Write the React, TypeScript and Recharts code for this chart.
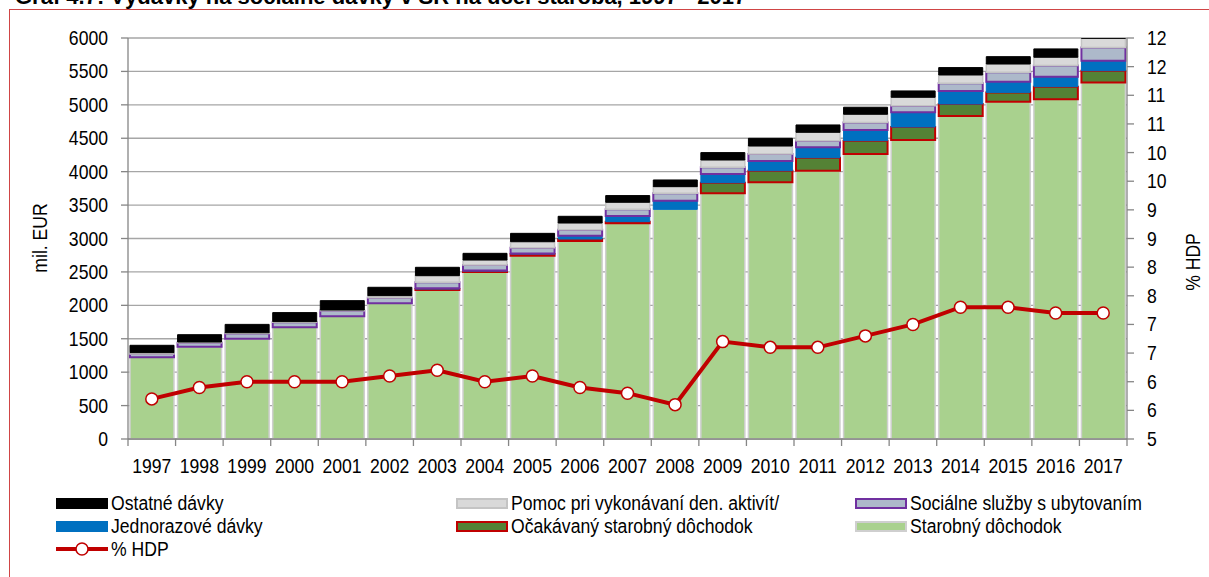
import React from "react";
import { ComposedChart, Bar, Line, XAxis, YAxis, CartesianGrid } from "recharts";

const years = [
  "1997", "1998", "1999", "2000", "2001", "2002", "2003", "2004", "2005", "2006", "2007",
  "2008", "2009", "2010", "2011", "2012", "2013", "2014", "2015", "2016", "2017",
];

// mil. EUR, stacked bottom to top
const starobny = [1222, 1381, 1500, 1671, 1835, 2030, 2229, 2498, 2742, 2962, 3227, 3436, 3676, 3840, 4014, 4264, 4473, 4832, 5046, 5082, 5336];
const ocakavany = [0, 0, 0, 0, 0, 0, 15, 15, 25, 30, 25, 0, 159, 174, 195, 200, 195, 180, 140, 190, 175];
const jednorazove = [0, 0, 0, 0, 0, 0, 10, 10, 10, 50, 85, 130, 130, 145, 155, 160, 220, 195, 160, 150, 150];
const socialne = [50, 60, 80, 75, 85, 85, 90, 80, 85, 90, 100, 110, 100, 105, 100, 110, 100, 115, 140, 165, 195];
const pomoc = [20, 10, 10, 10, 10, 30, 100, 75, 90, 100, 105, 100, 110, 120, 125, 125, 125, 125, 125, 125, 140];
const ostatne = [110, 110, 125, 135, 140, 125, 125, 100, 125, 100, 100, 100, 110, 115, 110, 105, 95, 110, 110, 125, 120];

// % HDP (right axis)
const hdp = [5.7, 5.9, 6.0, 6.0, 6.0, 6.1, 6.2, 6.0, 6.1, 5.9, 5.8, 5.6, 6.7, 6.6, 6.6, 6.8, 7.0, 7.3, 7.3, 7.2, 7.2];

const leftTicks = [0, 500, 1000, 1500, 2000, 2500, 3000, 3500, 4000, 4500, 5000, 5500, 6000];
const rightTicks = [5, 5.5, 6, 6.5, 7, 7.5, 8, 8.5, 9, 9.5, 10, 10.5, 11, 11.5, 12];

const rows = years.map((year, i) => ({
  year,
  starobny: starobny[i],
  ocakavany: ocakavany[i],
  jednorazove: jednorazove[i],
  socialne: socialne[i],
  pomoc: pomoc[i],
  ostatne: ostatne[i],
  hdp: hdp[i],
}));

const FONT = "'Liberation Sans', Arial, sans-serif";
const AXIS = "#868686";
const SQUEEZE = 0.88; // reference text is a bit condensed

// text squeezed horizontally around its anchor point
function NarrowText({ x, y, anchor, children, dy = "0.35em", rotate = 0 }: any) {
  return (
    <g transform={`translate(${x},${y}) rotate(${rotate}) scale(${SQUEEZE},1)`}>
      <text x={0} y={0} dy={dy} textAnchor={anchor} fontSize={20} fontFamily={FONT} fill="#000">
        {children}
      </text>
    </g>
  );
}

function YearTick(props: any) {
  const { x, y, payload, index, visibleTicksCount } = props;
  const half = payload.offset ?? 0;
  return (
    <g>
      <line x1={x - half} x2={x - half} y1={y} y2={y + 7} stroke={AXIS} strokeWidth={1.3} />
      {index === visibleTicksCount - 1 && (
        <line x1={x + half} x2={x + half} y1={y} y2={y + 7} stroke={AXIS} strokeWidth={1.3} />
      )}
      <NarrowText x={x} y={y + 27} anchor="middle">
        {payload.value}
      </NarrowText>
    </g>
  );
}

function LeftTick(props: any) {
  const { x, y, payload } = props;
  return (
    <NarrowText x={x} y={y} anchor="end">
      {payload.value}
    </NarrowText>
  );
}

function RightTick(props: any) {
  const { x, y, payload } = props;
  return (
    <NarrowText x={x} y={y} anchor="start">
      {Math.round(payload.value)}
    </NarrowText>
  );
}

type LegendItem = { label: string; fill?: string; stroke?: string; line?: boolean };

const legendRows: LegendItem[][] = [
  [
    { label: "Ostatné dávky", fill: "#000000" },
    { label: "Pomoc pri vykonávaní den. aktivít/", fill: "#d9d9d9", stroke: "#c4c4c4" },
    { label: "Sociálne služby s ubytovaním", fill: "#adb9ca", stroke: "#7030a0" },
  ],
  [
    { label: "Jednorazové dávky", fill: "#0070c0" },
    { label: "Očakávaný starobný dôchodok", fill: "#548235", stroke: "#c00000" },
    { label: "Starobný dôchodok", fill: "#a9d18e", stroke: "#cfcfcf" },
  ],
  [{ label: "% HDP", line: true }],
];
const legendCols = [56, 456, 855];

function Swatch({ item }: { item: LegendItem }) {
  if (item.line) {
    return (
      <svg width={52} height={16} style={{ display: "block" }}>
        <line x1={0} x2={52} y1={8} y2={8} stroke="#c00000" strokeWidth={4} />
        <circle cx={26} cy={8} r={6} fill="#fff" stroke="#c00000" strokeWidth={1.5} />
      </svg>
    );
  }
  return (
    <div
      style={{
        width: 48,
        height: 7,
        background: item.fill,
        border: `2px solid ${item.stroke ?? item.fill}`,
      }}
    />
  );
}

export default function App() {
  return (
    <div
      style={{
        position: "absolute",
        left: 0,
        top: 0,
        width: 1209,
        height: 577,
        background: "#fff",
        overflow: "hidden",
        fontFamily: FONT,
      }}
    >
      <div
        style={{
          position: "absolute",
          left: 15,
          top: -14,
          fontSize: 22,
          lineHeight: "22px",
          fontWeight: "bold",
          whiteSpace: "nowrap",
        }}
      >
        Graf 4.7: Výdavky na sociálne dávky v SR na účel staroba, 1997 - 2017
      </div>
      <div
        style={{
          position: "absolute",
          left: 9,
          top: 9,
          width: 1210,
          height: 600,
          border: "1.5px solid #d04545",
          boxSizing: "border-box",
        }}
      />
      <div style={{ position: "absolute", left: 0, top: 0 }}>
        <ComposedChart
          width={1209}
          height={480}
          data={rows}
          margin={{ top: 38, right: 0, bottom: 0, left: 0 }}
          barCategoryGap={2}
        >
          <CartesianGrid yAxisId="left" xAxisId="cat" vertical={false} stroke="#a6a6a6" strokeWidth={1.3} />
          <XAxis
            xAxisId="cat"
            dataKey="year"
            height={41}
            interval={0}
            tickSize={0}
            tickMargin={0}
            tickLine={false}
            axisLine={{ stroke: AXIS, strokeWidth: 1.3 }}
            tick={<YearTick />}
          />
          <YAxis
            yAxisId="left"
            width={128}
            domain={[0, 6000]}
            ticks={leftTicks}
            interval={0}
            allowDataOverflow
            tickSize={7}
            tickMargin={13}
            tick={<LeftTick />}
            tickLine={{ stroke: AXIS, strokeWidth: 1.3 }}
            axisLine={{ stroke: AXIS, strokeWidth: 1.3 }}
          />
          <YAxis
            yAxisId="right"
            orientation="right"
            width={82}
            domain={[5, 12]}
            ticks={rightTicks}
            interval={0}
            allowDataOverflow
            tickSize={7}
            tickMargin={13}
            tick={<RightTick />}
            tickLine={{ stroke: AXIS, strokeWidth: 1.3 }}
            axisLine={{ stroke: AXIS, strokeWidth: 1.3 }}
          />
          <Bar xAxisId="cat" yAxisId="left" stackId="s" dataKey="starobny" fill="#a9d18e" stroke="#cfcfcf" strokeWidth={1.5} isAnimationActive={false} />
          <Bar xAxisId="cat" yAxisId="left" stackId="s" dataKey="ocakavany" fill="#548235" stroke="#c00000" strokeWidth={2} isAnimationActive={false} />
          <Bar xAxisId="cat" yAxisId="left" stackId="s" dataKey="jednorazove" fill="#0070c0" stroke="#0070c0" strokeWidth={1} isAnimationActive={false} />
          <Bar xAxisId="cat" yAxisId="left" stackId="s" dataKey="socialne" fill="#adb9ca" stroke="#7030a0" strokeWidth={2} isAnimationActive={false} />
          <Bar xAxisId="cat" yAxisId="left" stackId="s" dataKey="pomoc" fill="#d9d9d9" stroke="#c4c4c4" strokeWidth={1.5} isAnimationActive={false} />
          <Bar xAxisId="cat" yAxisId="left" stackId="s" dataKey="ostatne" fill="#000000" stroke="#000000" strokeWidth={1} isAnimationActive={false} />
          <Line
            xAxisId="cat"
            yAxisId="right"
            dataKey="hdp"
            stroke="#c00000"
            strokeWidth={4}
            dot={{ r: 6, fill: "#fff", stroke: "#c00000", strokeWidth: 1.5 }}
            isAnimationActive={false}
          />
        </ComposedChart>
      </div>
      <svg width={1209} height={577} style={{ position: "absolute", left: 0, top: 0, pointerEvents: "none" }}>
        <NarrowText x={40} y={238} anchor="middle" rotate={-90}>
          mil. EUR
        </NarrowText>
        <NarrowText x={1193} y={262} anchor="middle" rotate={-90}>
          % HDP
        </NarrowText>
      </svg>
      {legendRows.map((row, r) =>
        row.map((item, c) => (
          <div
            key={`${r}-${c}`}
            style={{
              position: "absolute",
              left: legendCols[c],
              top: 492 + r * 23,
              height: 22,
              display: "flex",
              alignItems: "center",
              gap: 3,
              fontSize: 20,
              whiteSpace: "nowrap",
              color: "#000",
            }}
          >
            <Swatch item={item} />
            <span style={{ display: "inline-block", transform: `scaleX(${SQUEEZE})`, transformOrigin: "left center" }}>
              {item.label}
            </span>
          </div>
        ))
      )}
    </div>
  );
}
